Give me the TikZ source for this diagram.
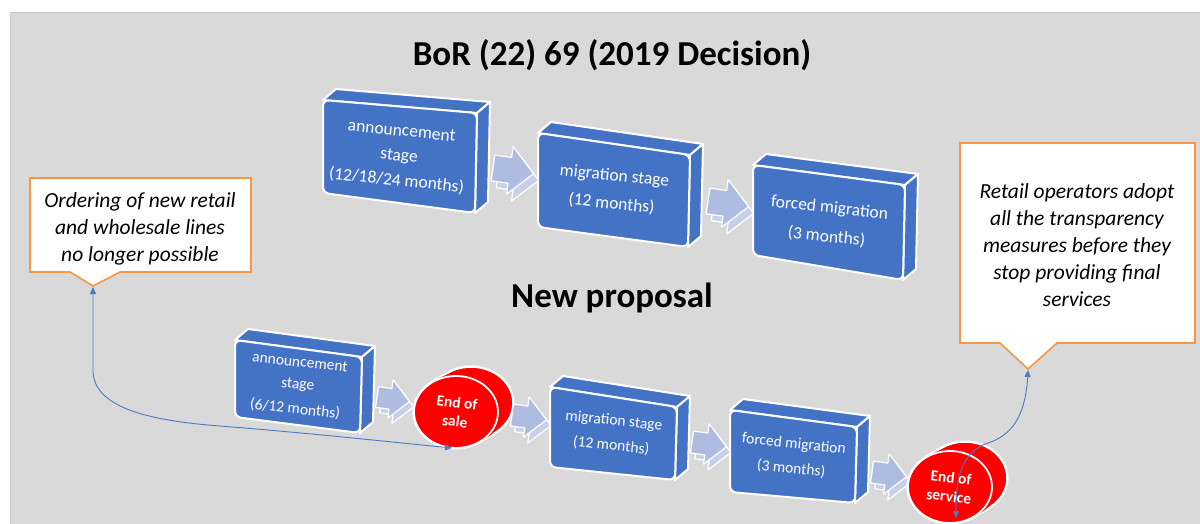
\documentclass[tikz,border=0pt]{standalone}
\usepackage{fontspec}
\setmainfont{Carlito}
\usetikzlibrary{arrows.meta,calc}

\definecolor{bgcol}{HTML}{D9D9D9}
\definecolor{bgedge}{HTML}{C8C8C8}
\definecolor{cubeblue}{HTML}{4472C4}
\definecolor{arrowfront}{HTML}{AEBCE1}
\definecolor{arrowtop}{HTML}{C6D0EA}
\definecolor{calloutline}{HTML}{F79646}
\definecolor{linkblue}{HTML}{4A7BC0}
\definecolor{stopred}{HTML}{FF0000}

\tikzset{
  cubeface/.style={fill=cubeblue, draw=white, line width=2pt, line join=round},
  cubefront/.style={cubeface, rounded corners=6pt},
  bigstage/.style={text=white, align=center, rotate=-6, inner sep=0pt,
    font=\fontsize{17.5}{25}\selectfont},
  smallstage/.style={text=white, align=center, rotate=-6, inner sep=0pt,
    font=\fontsize{15.5}{22}\selectfont},
  flowarrow/.style={fill=arrowfront, draw=white, line width=1.2pt, line join=round},
  flowarrowtop/.style={fill=arrowtop, draw=white, line width=1.2pt, line join=round},
  stoptext/.style={text=white, align=center, rotate=-7, inner sep=0pt,
    font=\bfseries\fontsize{15.5}{19}\selectfont},
  callout/.style={fill=white, draw=calloutline, line width=1.6pt, line join=miter},
  callouttext/.style={align=center, inner sep=0pt,
    font=\itshape\fontsize{21.5}{27}\selectfont},
  heading/.style={font=\bfseries\fontsize{35}{40}\selectfont, inner sep=0pt},
  link/.style={draw=linkblue, line width=0.9pt,
    {Triangle[width=6pt,length=7pt]}-{Triangle[width=6pt,length=7pt]}},
}

% 3D stage box: #1 name, #2/#3 front top-left, #4 width, #5 left height,
% #6 drop of the top edge, #7 drop of the bottom edge, #8 text style, #9 text
\newcommand\stagecube[9]{%
  \pgfmathsetmacro\cubeAx{#2}\pgfmathsetmacro\cubeAy{#3}%
  \pgfmathsetmacro\cubeBx{#2+#4}\pgfmathsetmacro\cubeBy{#3+#6}%
  \pgfmathsetmacro\cubeCx{#2+#4-2}\pgfmathsetmacro\cubeCy{#3+#5+#7}%
  \pgfmathsetmacro\cubeDy{#3+#5}%
  \pgfmathsetmacro\cubeMx{(#2+\cubeCx)/2}\pgfmathsetmacro\cubeMy{(#3+\cubeCy)/2}%
  \filldraw[cubeface] (\cubeAx,\cubeAy) -- ++(13,-11) -- (\cubeBx+13,\cubeBy-11)
    -- (\cubeBx,\cubeBy) -- cycle;
  \filldraw[cubeface] (\cubeBx,\cubeBy) -- (\cubeBx+13,\cubeBy-11)
    -- (\cubeCx+13,\cubeCy-11) -- (\cubeCx,\cubeCy) -- cycle;
  \filldraw[cubefront] (\cubeAx,\cubeAy) -- (\cubeBx,\cubeBy) -- (\cubeCx,\cubeCy)
    -- (\cubeAx,\cubeDy) -- cycle;
  \node[#8] (#1) at (\cubeMx,\cubeMy) {#9};
}

% block arrow between stages: #1/#2 left middle of the shaft, #3 scale
\newcommand\flowstep[3]{%
  \begin{scope}[shift={(#1,#2)}, scale=#3, rotate=-8]
    \filldraw[flowarrowtop] (6,-7) -- (23,-7) -- (23,-18) -- (47,6) -- (23,30)
      -- (23,19) -- (6,19) -- cycle;
    \filldraw[flowarrow] (0,-13) -- (17,-13) -- (17,-24) -- (41,0) -- (17,24)
      -- (17,13) -- (0,13) -- cycle;
  \end{scope}%
}

% red milestone disc: #1 name, #2/#3 front centre, #4 text
\newcommand\stopdisc[4]{%
  \foreach \t in {0,0.2,...,1}
    \draw[white, line width=3pt] (#2+15*\t,#3-9*\t) ellipse [x radius=42, y radius=36];
  \foreach \t in {0,0.2,...,1}
    \fill[stopred] (#2+15*\t,#3-9*\t) ellipse [x radius=42, y radius=36];
  \draw[white, line width=1.6pt] (#2+15,#3-9) ellipse [x radius=42, y radius=36];
  \fill[stopred] (#2+7,#3-4) ellipse [x radius=42, y radius=36];
  \filldraw[stopred, draw=white, line width=1.8pt] (#2,#3) ellipse [x radius=42, y radius=36];
  \node[stoptext] (#1) at (#2,#3) {#4};
}

\begin{document}
\begin{tikzpicture}[x=1pt, y=-1pt]
  \useasboundingbox (0,0) rectangle (1200,524);
  \fill[white] (0,0) rectangle (1200,524);
  \filldraw[fill=bgcol, draw=bgedge, line width=0.6pt] (10,12) rectangle (1201,525);

  % headings
  \node[heading] (oldtitle) at (612,55) {BoR (22) 69 (2019 Decision)};
  \node[heading] (newtitle) at (612,298) {New proposal};

  % 2019 decision
  \stagecube{annold}{323}{100}{154}{93}{13}{20}{bigstage}%
    {announcement\\stage\\(12/18/24 months)}
  \flowstep{493}{168}{1}
  \stagecube{migold}{538}{133}{152}{94}{22}{20}{bigstage}%
    {migration stage\\[3pt](12 months)}
  \flowstep{708}{201}{1}
  \stagecube{forcedold}{753}{165}{152}{90}{20}{25}{bigstage}%
    {forced migration\\[4pt](3 months)}

  % new proposal
  \stagecube{annnew}{235}{340}{127}{77}{17}{16}{smallstage}%
    {announcement\\stage\\[3pt](6/12 months)}
  \flowstep{377}{397}{0.8}
  \stopdisc{sale}{456}{412}{End of\\sale}
  \flowstep{512}{415}{0.85}
  \stagecube{mignew}{550}{387}{127}{80}{20}{13}{smallstage}%
    {migration stage\\[3pt](12 months)}
  \flowstep{692}{442}{0.85}
  \stagecube{forcednew}{730}{410}{127}{82}{17}{11}{smallstage}%
    {forced migration\\[3pt](3 months)}
  \flowstep{872}{472}{0.85}
  \stopdisc{service}{950}{487}{End of\\service}

  % callouts
  \draw[callout] (30,178) -- (251,178) -- (251,272) -- (120,272) -- (93,286)
    -- (70,272) -- (30,272) -- cycle;
  \node[callouttext] (ordering) at (140,229)
    {Ordering of new retail\\and wholesale lines\\no longer possible};
  \coordinate (orderingTip) at (93,287);

  \draw[callout] (960,143) -- (1195,143) -- (1195,343) -- (1057,343) -- (1028,369)
    -- (1000,343) -- (960,343) -- cycle;
  \node[callouttext] (retail) at (1077,245)
    {Retail operators adopt\\all the transparency\\measures before they\\stop providing final\\services};
  \coordinate (retailTip) at (1028,370);

  % links from the callouts to the milestones
  \coordinate (saleIn) at (452,448);
  \coordinate (serviceIn) at (956,518);
  \draw[link] (orderingTip) -- (93,372) .. controls (95,405) and (140,420) .. (220,426)
    .. controls (320,434) and (400,443) .. (saleIn);
  \draw[link] (retailTip) .. controls (1025,425) and (1005,438) .. (985,444)
    .. controls (960,455) and (956,480) .. (serviceIn);
\end{tikzpicture}
\end{document}
